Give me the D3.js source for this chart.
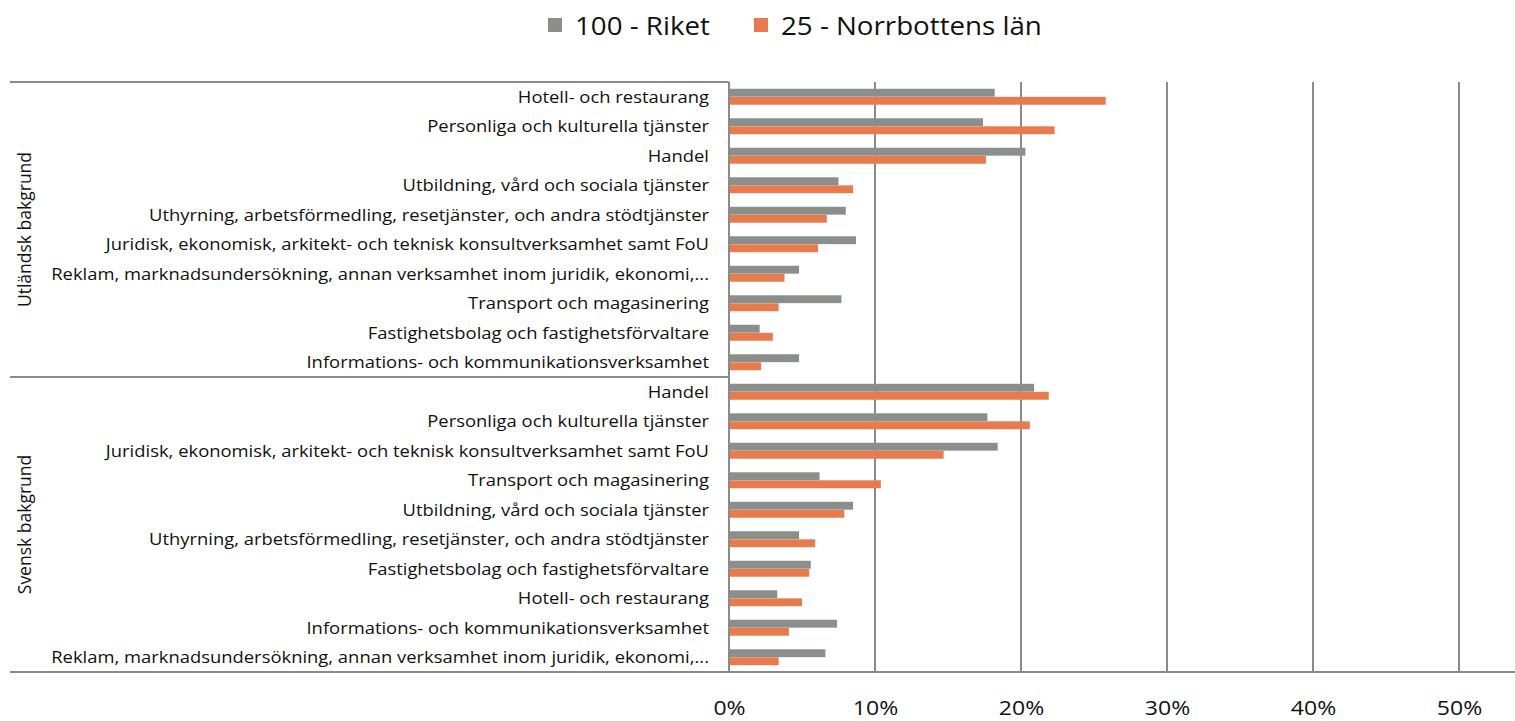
<!DOCTYPE html>
<html>
<head>
<meta charset="utf-8">
<script src="https://cdn.jsdelivr.net/npm/d3@7"></script>
<style>
  html, body { margin: 0; padding: 0; background: #fff; }
  svg { display: block; }
  text { fill: #111; }
</style>
</head>
<body>
<svg id="chart" width="1515" height="721"></svg>
<script>
// Branch shares, employed persons by background: Riket vs Norrbottens län
const seriesNames = ["100 - Riket", "25 - Norrbottens län"];
const seriesColors = ["#8B8F8C", "#E77B4D"];

const groups = ["Utländsk bakgrund", "Svensk bakgrund"];

const utlandskCategories = [
  "Hotell- och restaurang",
  "Personliga och kulturella tjänster",
  "Handel",
  "Utbildning, vård och sociala tjänster",
  "Uthyrning, arbetsförmedling, resetjänster, och andra stödtjänster",
  "Juridisk, ekonomisk, arkitekt- och teknisk konsultverksamhet samt FoU",
  "Reklam, marknadsundersökning, annan verksamhet inom juridik, ekonomi,...",
  "Transport och magasinering",
  "Fastighetsbolag och fastighetsförvaltare",
  "Informations- och kommunikationsverksamhet"
];
const utlandskRiket = [0.182, 0.174, 0.203, 0.075, 0.080, 0.087, 0.048, 0.077, 0.021, 0.048];
const utlandskNorrbotten = [0.258, 0.223, 0.176, 0.085, 0.067, 0.061, 0.038, 0.034, 0.030, 0.022];

const svenskCategories = [
  "Handel",
  "Personliga och kulturella tjänster",
  "Juridisk, ekonomisk, arkitekt- och teknisk konsultverksamhet samt FoU",
  "Transport och magasinering",
  "Utbildning, vård och sociala tjänster",
  "Uthyrning, arbetsförmedling, resetjänster, och andra stödtjänster",
  "Fastighetsbolag och fastighetsförvaltare",
  "Hotell- och restaurang",
  "Informations- och kommunikationsverksamhet",
  "Reklam, marknadsundersökning, annan verksamhet inom juridik, ekonomi,..."
];
const svenskRiket = [0.209, 0.177, 0.184, 0.062, 0.085, 0.048, 0.056, 0.033, 0.074, 0.066];
const svenskNorrbotten = [0.219, 0.206, 0.147, 0.104, 0.079, 0.059, 0.055, 0.050, 0.041, 0.034];

const xTicks = [0, 0.1, 0.2, 0.3, 0.4, 0.5];

// Flatten into rows for drawing
const rows = [];
utlandskCategories.forEach((c, i) => rows.push({
  key: "u" + i, group: groups[0], label: c, values: [utlandskRiket[i], utlandskNorrbotten[i]]
}));
svenskCategories.forEach((c, i) => rows.push({
  key: "s" + i, group: groups[1], label: c, values: [svenskRiket[i], svenskNorrbotten[i]]
}));

const svg = d3.select("#chart");
const font = "'Open Sans', 'Noto Sans', sans-serif";
const axisColor = "#8a8a8a";

const plotLeft = 729, plotRight = 1459, plotTop = 82, plotBottom = 672;

const x = d3.scaleLinear().domain([0, 0.5]).range([plotLeft, plotRight]);
const y = d3.scaleBand().domain(rows.map(r => r.key)).range([plotTop, plotBottom]).padding(0);
const ySeries = d3.scaleBand().domain([0, 1]).range([0, y.bandwidth()]).paddingInner(0.02).paddingOuter(0.84);

// Vertical gridlines
svg.append("g").selectAll("line")
  .data(xTicks.filter(t => t > 0))
  .join("line")
  .attr("x1", d => x(d)).attr("x2", d => x(d))
  .attr("y1", plotTop).attr("y2", plotBottom)
  .attr("stroke", axisColor).attr("stroke-width", 2);

// Bars
const rowG = svg.append("g").selectAll("g")
  .data(rows)
  .join("g")
  .attr("transform", d => `translate(0,${y(d.key)})`);

rowG.selectAll("rect")
  .data(d => d.values.map((v, i) => ({ v, i })))
  .join("rect")
  .attr("x", x(0))
  .attr("y", d => ySeries(d.i))
  .attr("width", d => x(d.v) - x(0))
  .attr("height", ySeries.bandwidth())
  .attr("fill", d => seriesColors[d.i]);

// Category axis frame: vertical axis line and group separators
svg.append("line")
  .attr("x1", plotLeft).attr("x2", plotLeft)
  .attr("y1", plotTop).attr("y2", plotBottom)
  .attr("stroke", axisColor).attr("stroke-width", 2);

const groupBounds = groups.map(g => {
  const keys = rows.filter(r => r.group === g).map(r => r.key);
  return { group: g, top: y(keys[0]), bottom: y(keys[keys.length - 1]) + y.bandwidth() };
});

svg.append("line")
  .attr("x1", 10).attr("x2", plotLeft)
  .attr("y1", plotTop).attr("y2", plotTop)
  .attr("stroke", axisColor).attr("stroke-width", 2);
svg.append("line")
  .attr("x1", 10).attr("x2", plotLeft)
  .attr("y1", groupBounds[0].bottom).attr("y2", groupBounds[0].bottom)
  .attr("stroke", axisColor).attr("stroke-width", 2);
svg.append("line")
  .attr("x1", 10).attr("x2", 1515)
  .attr("y1", plotBottom).attr("y2", plotBottom)
  .attr("stroke", axisColor).attr("stroke-width", 2);

// Category labels, condensed horizontally to a narrow face
const labelG = svg.append("g");
const labels = labelG.selectAll("text")
  .data(rows)
  .join("text")
  .attr("font-family", font)
  .attr("font-size", 16)
  .attr("text-anchor", "end")
  .attr("dominant-baseline", "central")
  .text(d => d.label);
const wJur = labels.filter(d => d.label.startsWith("Juridisk")).node().getComputedTextLength();
const wRek = labels.filter(d => d.label.startsWith("Reklam")).node().getComputedTextLength();
const condense = (613 + 649) / (wJur + wRek);
labels.attr("transform", d => `translate(709,${y(d.key) + y.bandwidth() / 2}) scale(${condense},1)`);

// Group labels (rotated)
svg.append("g").selectAll("text")
  .data(groupBounds)
  .join("text")
  .attr("font-family", font)
  .attr("font-size", 17.5)
  .attr("text-anchor", "middle")
  .attr("dominant-baseline", "central")
  .attr("transform", d => `translate(24,${(d.top + d.bottom) / 2}) rotate(-90)`)
  .text(d => d.group);

// Value axis tick labels
const xAxis = d3.axisBottom(x).tickValues(xTicks).tickFormat(d3.format(".0%")).tickSize(0).tickPadding(0);
const axG = svg.append("g").call(xAxis);
axG.select(".domain").remove();
axG.selectAll("text")
  .attr("font-family", font)
  .attr("font-size", 20)
  .attr("fill", "#111")
  .attr("y", 0)
  .attr("dy", null)
  .attr("transform", `translate(0,715) scale(${condense},1)`);

// Legend
const legend = svg.append("g");
const legendItems = [
  { name: seriesNames[0], color: seriesColors[0], x: 548 },
  { name: seriesNames[1], color: seriesColors[1], x: 754 }
];
const legendTexts = legendItems.map(it => {
  legend.append("rect")
    .attr("x", it.x).attr("y", 18).attr("width", 14).attr("height", 14)
    .attr("fill", it.color);
  return legend.append("text")
    .attr("font-family", font)
    .attr("font-size", 26)
    .attr("dominant-baseline", "central")
    .attr("data-x", it.x + 27)
    .text(it.name);
});
const legendScale = 261 / legendTexts[1].node().getComputedTextLength();
legendTexts.forEach(t => t.attr("transform", `translate(${+t.attr("data-x")},25) scale(${legendScale},1)`));
</script>
</body>
</html>
